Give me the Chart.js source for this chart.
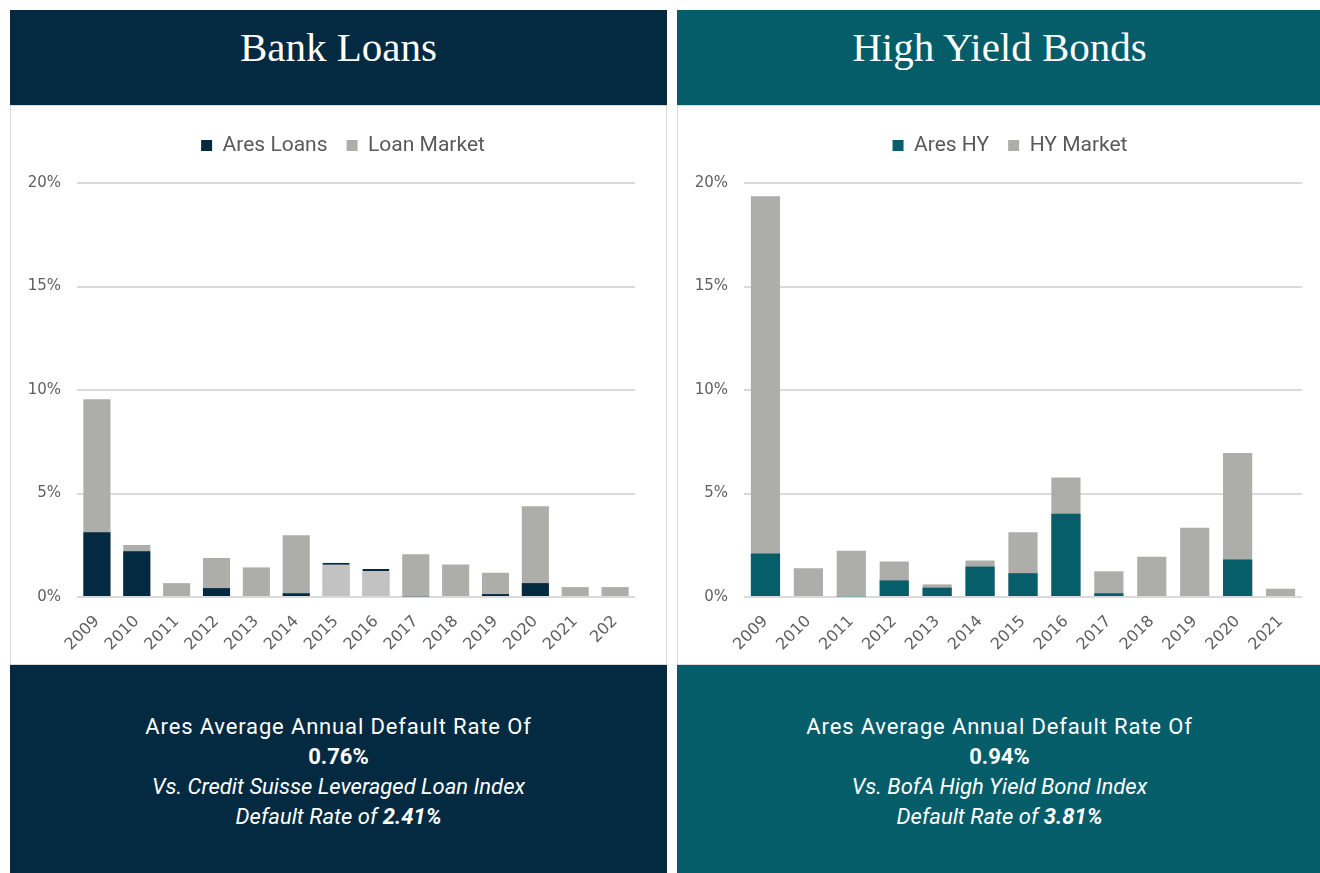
<!DOCTYPE html>
<html>
<head>
<meta charset="utf-8">
<script src="https://cdn.jsdelivr.net/npm/chart.js@4.4.0/dist/chart.umd.min.js"></script>
<style>
body{margin:0;background:#fff;width:1320px;height:873px;overflow:hidden;position:relative;font-family:Roboto,sans-serif}
.panel{position:absolute;top:10px}
#left{left:10px;width:657px}
#right{left:677px;width:645px}
.head{height:95px;color:#fff;font-family:"Liberation Serif",serif;font-size:41px;text-align:center;line-height:74px}
.box{height:560px;box-sizing:border-box;border:1px solid #d9d9d9;background:#fff;position:relative}
.box div{position:absolute;left:0;top:0;right:0;bottom:0}
.foot{height:210px;color:#fff;text-align:center;font-size:22px;line-height:30px;padding-top:47px;box-sizing:border-box}
.foot span{letter-spacing:0.85px}
.foot i{font-style:italic}
#left .head,#left .foot{background:#032a40}
#right .head,#right .foot{background:#055d6a}
</style>
</head>
<body>
<div class="panel" id="left">
  <div class="head">Bank Loans</div>
  <div class="box"><div><canvas id="loans"></canvas></div></div>
  <div class="foot"><span>Ares Average Annual Default Rate Of</span><br><b>0.76%</b><br><i>Vs. Credit Suisse Leveraged Loan Index</i><br><i>Default Rate of <b>2.41%</b></i></div>
</div>
<div class="panel" id="right">
  <div class="head">High Yield Bonds</div>
  <div class="box"><div><canvas id="bonds"></canvas></div></div>
  <div class="foot"><span>Ares Average Annual Default Rate Of</span><br><b>0.94%</b><br><i>Vs. BofA High Yield Bond Index</i><br><i>Default Rate of <b>3.81%</b></i></div>
</div>
<script>
// bank loans (default rate, %)
const loanYears = ["2009","2010","2011","2012","2013","2014","2015","2016","2017","2018","2019","2020","2021","202"];
const aresLoans = [3.13, 2.21, 0, 0.43, 0, 0.18, 1.65, 1.35, 0.03, 0, 0.14, 0.67, 0, 0];
const loanMarket = [9.55, 2.51, 0.67, 1.88, 1.43, 2.98, 1.6, 1.2, 2.07, 1.57, 1.17, 4.38, 0.48, 0.48];
// years where the loan bar is shown shaded in the source
const shadedYears = ["2015","2016"];

// high yield bonds (default rate, %)
const hyYears = ["2009","2010","2011","2012","2013","2014","2015","2016","2017","2018","2019","2020","2021"];
const aresHY = [2.1, 0, 0.03, 0.8, 0.45, 1.47, 1.15, 4.02, 0.18, 0, 0, 1.81, 0];
const hyMarket = [19.36, 1.39, 2.24, 1.72, 0.61, 1.76, 3.13, 5.77, 1.24, 1.94, 3.35, 6.96, 0.4];

const yTicks = [0, 5, 10, 15, 20];

const NAVY = "#032a40", TEAL = "#065e6b", GREY = "#adada9", LIGHT = "#c2c2c2";

Chart.defaults.font.family = "'DejaVu Sans', sans-serif";
Chart.defaults.color = "#5f5f5f";

// extra room under the legend, and legend nudged right like the original
const legendGap = {
  id: "legendGap",
  beforeInit(chart) {
    const fit = chart.legend.fit;
    chart.legend.fit = function () {
      fit.bind(chart.legend)();
      this.height += 17;
    };
  },
  afterLayout(chart) {
    chart.legend.left += 20;
    chart.legend.right += 20;
  },
};

function makeChart(id, labels, ares, market, aresName, marketName, aresColor, padRight) {
  const isShaded = (c) => c.dataIndex !== undefined && id === "loans" && shadedYears.includes(labels[c.dataIndex]);
  return new Chart(document.getElementById(id), {
    type: "bar",
    data: {
      labels: labels,
      datasets: [
        {
          label: aresName,
          data: ares,
          backgroundColor: (c) => isShaded(c) ? LIGHT : aresColor,
          borderColor: aresColor,
          borderWidth: (c) => isShaded(c) ? {top: 2, left: 0, right: 0, bottom: 0} : 0,
          borderSkipped: false,
          grouped: false,
          barPercentage: 0.68,
          categoryPercentage: 1,
        },
        {
          label: marketName,
          data: market,
          backgroundColor: GREY,
          grouped: false,
          barPercentage: 0.68,
          categoryPercentage: 1,
        },
      ],
    },
    plugins: [legendGap],
    options: {
      responsive: true,
      maintainAspectRatio: false,
      animation: false,
      layout: { padding: { top: 10, right: padRight, left: 0, bottom: 0 } },
      plugins: {
        legend: {
          position: "top",
          labels: {
            font: { family: "Roboto", size: 21 },
            color: "#595959",
            boxWidth: 11,
            boxHeight: 11,
            padding: 19,
          },
        },
        tooltip: { enabled: false },
      },
      scales: {
        x: {
          grid: { display: false },
          border: { display: false },
          ticks: { minRotation: 45, maxRotation: 45, font: { size: 16 }, padding: 7, autoSkip: false },
          afterFit: (s) => { s.height = 67; },
        },
        y: {
          min: 0,
          max: 20,
          afterBuildTicks: (s) => { s.ticks = yTicks.map((v) => ({ value: v })); },
          grid: { color: "#dadada", lineWidth: 2, drawTicks: false },
          border: { display: false },
          ticks: { callback: (v) => v + "%", font: { size: 15 }, padding: 16 },
          afterFit: (s) => { s.width = 66; },
        },
      },
    },
  });
}

makeChart("loans", loanYears, aresLoans, loanMarket, "Ares Loans", "Loan Market", NAVY, 31);
makeChart("bonds", hyYears, aresHY, hyMarket, "Ares HY", "HY Market", TEAL, 19);
</script>
</body>
</html>
